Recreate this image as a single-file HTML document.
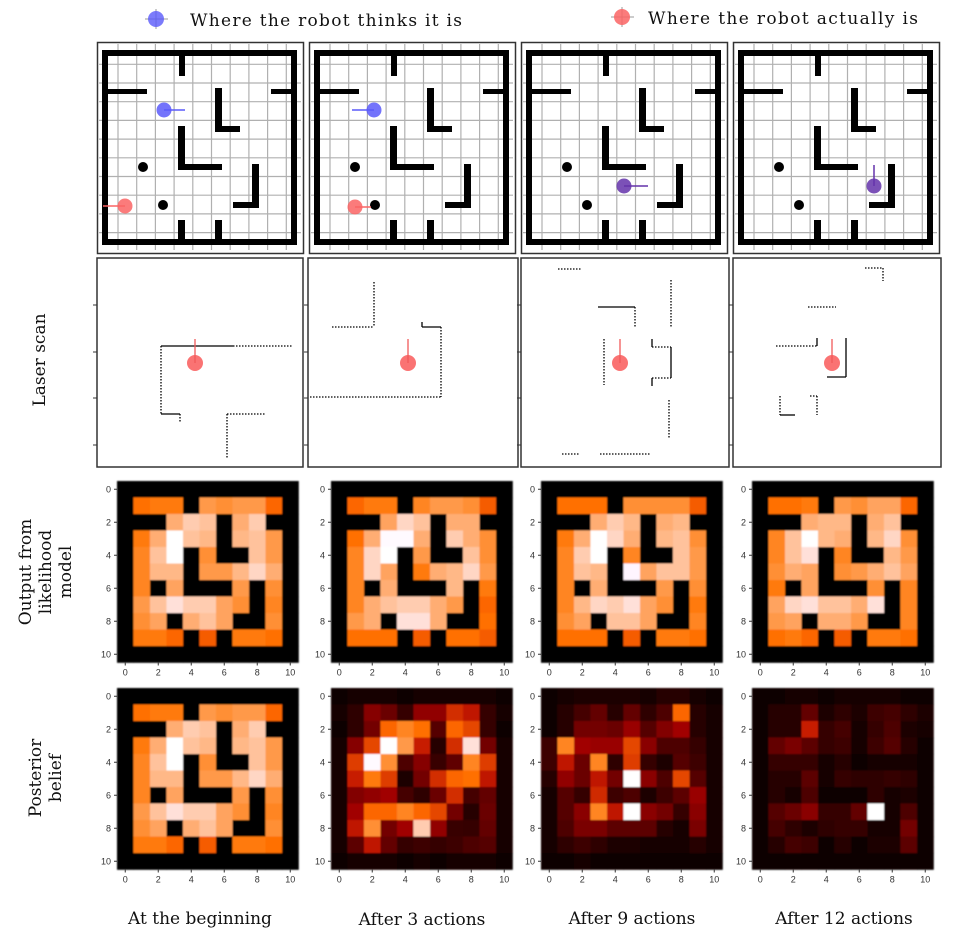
<!DOCTYPE html>
<html><head><meta charset="utf-8"><style>
html,body{margin:0;padding:0;background:#fff;}
svg{display:block;}
.lbl{font-family:"DejaVu Serif","Liberation Serif",serif;fill:#111;}
.tk{font-family:"Liberation Sans","DejaVu Sans",sans-serif;font-size:9px;fill:#333;}
</style></head><body>
<svg id="fig" width="958" height="949" viewBox="0 0 958 949" xmlns="http://www.w3.org/2000/svg">
  <defs><filter id="soft" x="-5%" y="-5%" width="110%" height="110%"><feGaussianBlur stdDeviation="0.7"/></filter></defs>
  <g>
    <g>
      <line x1="145" y1="19" x2="168" y2="19" stroke="#999" stroke-width="1"/>
      <line x1="156" y1="9" x2="156" y2="29" stroke="#999" stroke-width="1"/>
      <circle cx="156" cy="19" r="8" fill="rgb(90,90,250)" fill-opacity="0.8"/>
      <text class="lbl" x="190" y="26" font-size="17" textLength="272">Where the robot thinks it is</text>
    </g>
    <g>
      <line x1="611" y1="17" x2="634" y2="17" stroke="#999" stroke-width="1"/>
      <line x1="622" y1="7" x2="622" y2="27" stroke="#999" stroke-width="1"/>
      <circle cx="622" cy="17" r="8" fill="rgb(250,100,100)" fill-opacity="0.85"/>
      <text class="lbl" x="648" y="24" font-size="17" textLength="270">Where the robot actually is</text>
    </g>
  </g>
  <g id="mazes"></g>
  <g id="lasers"></g>
  <g id="heat"></g>
  <g>
    <text class="lbl" font-size="17" text-anchor="middle" transform="translate(45,360) rotate(-90)">Laser scan</text>
    <g transform="translate(45,572) rotate(-90)">
      <text class="lbl" font-size="17" text-anchor="middle" x="0" y="-14">Output from</text>
      <text class="lbl" font-size="17" text-anchor="middle" x="0" y="6">likelihood</text>
      <text class="lbl" font-size="17" text-anchor="middle" x="0" y="26">model</text>
    </g>
    <g transform="translate(45,778) rotate(-90)">
      <text class="lbl" font-size="17" text-anchor="middle" x="0" y="-4">Posterior</text>
      <text class="lbl" font-size="17" text-anchor="middle" x="0" y="16">belief</text>
    </g>
  </g>
  <g>
    <text class="lbl" font-size="17" text-anchor="middle" x="200" y="924">At the beginning</text>
    <text class="lbl" font-size="17" text-anchor="middle" x="422" y="925">After 3 actions</text>
    <text class="lbl" font-size="17" text-anchor="middle" x="632" y="924">After 9 actions</text>
    <text class="lbl" font-size="17" text-anchor="middle" x="844" y="924">After 12 actions</text>
  </g>
</svg>
<script>
const NS="http://www.w3.org/2000/svg";
// ---- heatmap data (11x11 grids, values 0..1) ----
const likelihood1=[
[0,0,0,0,0,0,0,0,0,0,0],
[0,.68,.7,.7,0,.76,.74,.76,.76,.66,0],
[0,0,0,.8,.86,.84,0,.8,.86,0,0],
[0,.7,.8,1,.84,.82,0,.82,.84,.76,0],
[0,.72,.84,1,0,.74,0,0,.84,.76,0],
[0,.72,.82,.82,0,.76,.76,.82,.88,.8,0],
[0,.72,0,.78,0,0,0,.76,0,.74,0],
[0,.76,.84,.9,.86,.86,.78,.74,0,.72,0],
[0,.74,.78,0,.8,.84,.78,0,0,.74,0],
[0,.7,.7,.66,0,.64,0,.7,.7,.68,0],
[0,0,0,0,0,0,0,0,0,0,0]];
const likelihood2=[
[0,0,0,0,0,0,0,0,0,0,0],
[0,.66,.7,.7,0,.72,.76,.76,.74,.64,0],
[0,0,0,.78,.88,.84,0,.8,.8,0,0],
[0,.68,.8,.95,.95,.8,0,.86,.8,.74,0],
[0,.72,.88,1,0,.76,0,0,.84,.74,0],
[0,.72,.88,.78,0,.7,.8,.82,.88,.76,0],
[0,.72,0,.8,0,0,0,.82,0,.7,0],
[0,.72,.8,.84,.86,.86,.8,.76,0,.66,0],
[0,.76,.8,0,.9,.9,.8,0,0,.68,0],
[0,.68,.68,.68,0,.64,0,.68,.68,.64,0],
[0,0,0,0,0,0,0,0,0,0,0]];
const likelihood3=[
[0,0,0,0,0,0,0,0,0,0,0],
[0,.68,.68,.68,0,.74,.74,.74,.74,.64,0],
[0,0,0,.8,.86,.82,0,.8,.82,0,0],
[0,.7,.8,.98,.88,.8,0,.82,.84,.74,0],
[0,.72,.86,1,0,.72,0,0,.84,.76,0],
[0,.72,.84,.82,0,.94,.78,.84,.84,.76,0],
[0,.72,0,.8,0,0,0,.76,0,.74,0],
[0,.72,.82,.88,.86,.9,.78,.74,0,.7,0],
[0,.74,.78,0,.84,.84,.78,0,0,.72,0],
[0,.68,.68,.68,0,.64,0,.7,.7,.68,0],
[0,0,0,0,0,0,0,0,0,0,0]];
const likelihood4=[
[0,0,0,0,0,0,0,0,0,0,0],
[0,.68,.68,.7,0,.76,.74,.78,.78,.66,0],
[0,0,0,.8,.82,.82,0,.8,.84,0,0],
[0,.72,.84,1,.82,.8,0,.82,.88,.74,0],
[0,.72,.84,.9,0,.72,0,0,.82,.76,0],
[0,.74,.8,.78,0,.74,.76,.8,.84,.78,0],
[0,.7,0,.78,0,0,0,.74,0,.72,0],
[0,.78,.88,.9,.84,.84,.8,.9,0,.72,0],
[0,.76,.78,0,.8,.8,.76,0,0,.72,0],
[0,.68,.7,.66,0,.64,0,.7,.7,.68,0],
[0,0,0,0,0,0,0,0,0,0,0]];
const posterior1=likelihood1;
const posterior2=[
[.02,.06,.06,.06,.02,.06,.06,.06,.06,.06,.02],
[.06,.12,.35,.28,.14,.38,.38,.55,.5,.14,.06],
[.03,.12,.3,.66,.72,.68,.22,.66,.6,.14,.03],
[.06,.35,.6,1,.76,.52,.1,.55,.9,.3,.06],
[.06,.58,.95,.74,.2,.35,.15,.25,.72,.58,.06],
[.06,.52,.7,.58,.08,.3,.55,.66,.68,.5,.06],
[.06,.34,.38,.42,.18,.12,.28,.55,.18,.26,.06],
[.06,.42,.66,.66,.72,.66,.6,.3,.1,.28,.06],
[.06,.5,.74,.3,.42,.86,.38,.15,.14,.26,.06],
[.06,.24,.5,.26,.14,.16,.14,.16,.2,.22,.06],
[.02,.06,.06,.06,.02,.06,.02,.06,.06,.06,.02]];
const posterior3=[
[.02,.06,.08,.08,.08,.08,.06,.1,.1,.06,.02],
[.04,.1,.18,.26,.1,.26,.12,.2,.66,.1,.06],
[.04,.1,.3,.3,.28,.4,.22,.34,.42,.1,.06],
[.16,.72,.42,.4,.4,.6,.36,.2,.2,.14,.06],
[.16,.5,.28,.72,.12,.58,.14,.08,.22,.16,.06],
[.1,.38,.28,.5,.3,.96,.36,.2,.6,.22,.06],
[.06,.22,.14,.54,.16,.2,.08,.16,.24,.4,.06],
[.06,.22,.36,.72,.5,1,.36,.3,.14,.36,.06],
[.06,.2,.32,.32,.24,.24,.24,.1,.06,.32,.06],
[.06,.12,.16,.12,.08,.08,.06,.06,.06,.1,.06],
[.02,.04,.06,.04,.04,.04,.02,.02,.02,.04,.02]];
const posterior4=[
[.02,.04,.06,.06,.04,.06,.06,.06,.06,.04,.04],
[.04,.1,.1,.26,.08,.12,.08,.16,.18,.12,.08],
[.04,.1,.1,.52,.14,.18,.06,.14,.2,.08,.06],
[.04,.26,.32,.24,.14,.16,.06,.16,.22,.1,.04],
[.04,.14,.14,.14,.06,.1,.04,.06,.06,.06,.04],
[.04,.1,.1,.24,.06,.14,.12,.12,.14,.12,.04],
[.04,.1,.06,.2,.04,.04,.04,.12,.06,.08,.04],
[.04,.22,.28,.36,.14,.14,.26,1,.06,.2,.04],
[.04,.18,.12,.08,.12,.14,.14,.06,.06,.3,.04],
[.04,.1,.18,.16,.04,.1,.04,.08,.08,.24,.04],
[.02,.02,.04,.04,.02,.02,.02,.02,.02,.04,.02]];
const tickLabels=["0","2","4","6","8","10"];
const tickValues=[0,2,4,6,8,10];
const columnNames=["beginning","after-3","after-9","after-12"];

const colLeft=[117,331,541,752];
const rowTop=[481,688];
const CELL=16.5;
function gistHeat(v){
  const c=x=>Math.round(255*Math.max(0,Math.min(1,x)));
  return `rgb(${c(1.5*v)},${c(2*v-0.92)},${c(4*v-2.75)})`;
}
function xScale(c,left){return left+c*CELL;}
function yScale(r,top){return top+r*CELL;}
const heat=document.getElementById('heat');
const grids=[[likelihood1,likelihood2,likelihood3,likelihood4],[posterior1,posterior2,posterior3,posterior4]];
grids.forEach((row,ri)=>{
  row.forEach((grid,ci)=>{
    const left=colLeft[ci], top=rowTop[ri];
    const g=document.createElementNS(NS,'g');
    
    
    const cells=document.createElementNS(NS,'g');
    
    
    cells.setAttribute('filter','url(#soft)');
    grid.forEach((vals,r)=>vals.forEach((v,c)=>{
      const rc=document.createElementNS(NS,'rect');
      
      
      rc.setAttribute('x',xScale(c,left));rc.setAttribute('y',yScale(r,top));
      rc.setAttribute('width',CELL+0.3);rc.setAttribute('height',CELL+0.3);
      rc.setAttribute('fill',gistHeat(v));
      cells.appendChild(rc);
    }));
    g.appendChild(cells);
    const W=11*CELL;
    tickValues.forEach((tv,i)=>{
      const cy=yScale(tv+0.5,top), cx=xScale(tv+0.5,left);
      const ty=document.createElementNS(NS,'text');
      
      
      ty.setAttribute('class','tk');ty.setAttribute('x',left-6);ty.setAttribute('y',cy+3);
      ty.setAttribute('text-anchor','end');ty.textContent=tickLabels[i];g.appendChild(ty);
      const l1=document.createElementNS(NS,'line');
      
      
      l1.setAttribute('x1',left-3);l1.setAttribute('x2',left);l1.setAttribute('y1',cy);l1.setAttribute('y2',cy);l1.setAttribute('stroke','#333');g.appendChild(l1);
      const tx=document.createElementNS(NS,'text');
      
      
      tx.setAttribute('class','tk');tx.setAttribute('x',cx);tx.setAttribute('y',top+W+13);
      tx.setAttribute('text-anchor','middle');tx.textContent=tickLabels[i];g.appendChild(tx);
      const l2=document.createElementNS(NS,'line');
      
      
      l2.setAttribute('x1',cx);l2.setAttribute('x2',cx);l2.setAttribute('y1',top+W);l2.setAttribute('y2',top+W+3);l2.setAttribute('stroke','#333');g.appendChild(l2);
    });
    heat.appendChild(g);
  });
});

// ---- maze panels ----
const mazeLeft=[97,309,521,733];
const walls=[[82,8,6,26],[5,47,45,5],[174,47,26,5],[118,46,7,44],[118,84,25,6],[81,84,7,44],[81,122,44,6],[155,122,7,44],[136,160,26,6],[81,178,7,25],[118,178,7,25]];
const robots=[
 [{x:67,y:68,dx:21,dy:0,c:'rgb(90,90,250)'},{x:28,y:164,dx:-22,dy:0,c:'rgb(250,100,100)'}],
 [{x:65,y:68,dx:-22,dy:0,c:'rgb(90,90,250)'},{x:46,y:165,dx:16,dy:0,c:'rgb(250,100,100)'}],
 [{x:103,y:144,dx:24,dy:0,c:'rgb(100,50,170)'}],
 [{x:141,y:144,dx:0,dy:-21,c:'rgb(100,50,170)'}]];
const mz=document.getElementById('mazes');
mazeLeft.forEach((ox,i)=>{
  const g=document.createElementNS(NS,'g');
  
  
  g.setAttribute('transform',`translate(${ox},42)`);
  let h=`<rect x="0.5" y="0.5" width="206" height="211" fill="#fff" stroke="#333" stroke-width="1.5"/>`;
  for(let k=1;k<=10;k++){const p=2.3+18.7*k, q=3.6+18.7*k;
    h+=`<line x1="${p}" y1="2" x2="${p}" y2="208" stroke="#b0b0b0" stroke-width="1.2"/>`;
    h+=`<line x1="2" y1="${q}" x2="204" y2="${q}" stroke="#b0b0b0" stroke-width="1.2"/>`;}
  h+=`<rect x="8" y="11" width="189" height="189" fill="none" stroke="#000" stroke-width="6"/>`;
  walls.forEach(w=>{h+=`<rect x="${w[0]}" y="${w[1]}" width="${w[2]}" height="${w[3]}" fill="#000"/>`;});
  h+=`<circle cx="46" cy="125" r="5" fill="#000"/><circle cx="66" cy="163" r="5" fill="#000"/>`;
  robots[i].forEach(r=>{
    h+=`<circle cx="${r.x}" cy="${r.y}" r="7.5" fill="${r.c}" fill-opacity="0.85"/>`;
    h+=`<line x1="${r.x}" y1="${r.y}" x2="${r.x+r.dx}" y2="${r.y+r.dy}" stroke="${r.c}" stroke-width="1.5"/>`;
  });
  g.innerHTML=h;
  mz.appendChild(g);
});

// ---- laser scan panels ----
const laserBoxes=[[97,258,206,209],[308,258,210,209],[521,258,208,209],[733,258,208,209]];
const laserRobots=[[195,363],[408,363],[620,363],[832,363]];
const laserSegs=[
 [[161,346,233,346,0],[233,346,293,346,1],[161,346,161,414,1],[161,414,180,414,0],[180,414,180,423,1],[227,414,227,459,1],[227,414,266,414,1]],
 [[374,282,374,327,1],[332,327,374,327,1],[422,322,422,327,0],[422,327,441,327,0],[441,327,441,397,1],[310,397,441,397,1]],
 [[558,269,582,269,1],[598,307,635,307,0],[635,307,635,328,1],[671,280,671,327,1],[604,339,604,385,1],[652,339,652,347,0],[652,347,671,347,1],[671,347,671,378,0],[652,378,671,378,1],[652,378,652,386,0],[669,400,669,438,1],[562,454,580,454,1],[600,454,650,454,1]],
 [[865,268,883,268,1],[883,268,883,281,1],[808,307,836,307,1],[776,346,817,346,1],[817,338,817,346,0],[846,338,846,377,0],[827,377,846,377,0],[780,396,780,415,1],[780,415,795,415,0],[817,396,817,415,1],[810,396,817,396,1]]];
const lasers=document.getElementById('lasers');
laserBoxes.forEach((b,i)=>{
  const g=document.createElementNS(NS,'g');
  
  
  let h=`<rect x="${b[0]}" y="${b[1]}" width="${b[2]}" height="${b[3]}" fill="#fff" stroke="#333" stroke-width="1.5"/>`;
  [305,352,398,445].forEach(y=>{h+=`<line x1="${b[0]-4}" y1="${y}" x2="${b[0]}" y2="${y}" stroke="#333"/>`;});
  laserSegs[i].forEach(s=>{
    h+=`<line x1="${s[0]}" y1="${s[1]}" x2="${s[2]}" y2="${s[3]}" stroke="#000" stroke-width="1.3" ${s[4]?'stroke-dasharray="1.5 1.5"':''}/>`;
  });
  const r=laserRobots[i];
  h+=`<circle cx="${r[0]}" cy="${r[1]}" r="8" fill="rgb(250,100,100)" fill-opacity="0.9"/>`;
  h+=`<line x1="${r[0]}" y1="${r[1]}" x2="${r[0]}" y2="${r[1]-24}" stroke="rgb(240,90,90)" stroke-width="1.3"/>`;
  g.innerHTML=h;
  lasers.appendChild(g);
});
</script>
</body></html>
